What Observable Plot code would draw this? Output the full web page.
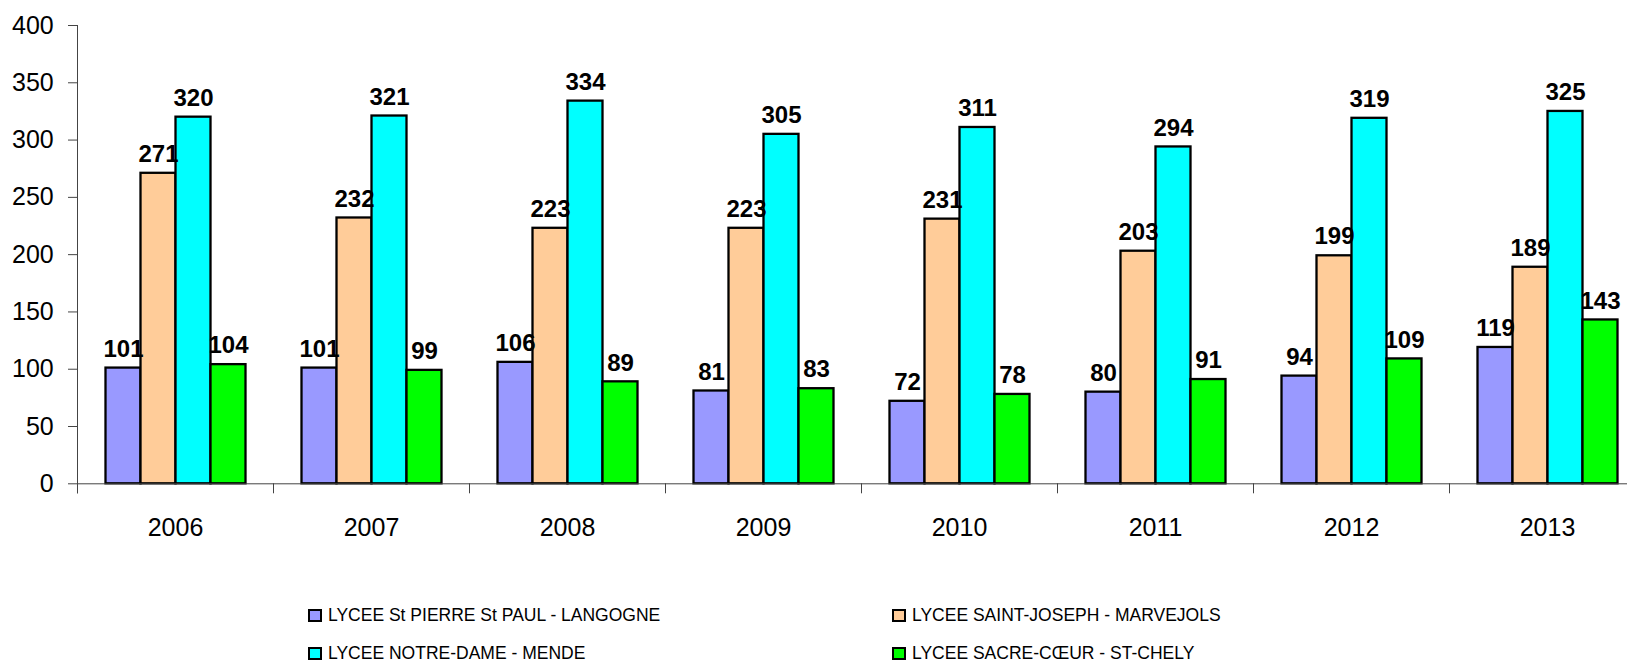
<!DOCTYPE html>
<html>
<head>
<meta charset="utf-8">
<script src="https://cdn.jsdelivr.net/npm/d3@7"></script>
<script src="https://cdn.jsdelivr.net/npm/@observablehq/plot@0.6"></script>
<style>
  html, body { margin: 0; padding: 0; background: white; overflow: hidden; }
  #chart svg { display: block; overflow: hidden; }
  #legend {
    font-family: "Liberation Sans", Arial, sans-serif;
    font-size: 17.5px;
    color: black;
    display: grid;
    grid-template-columns: 584px auto;
    grid-auto-rows: 38px;
    padding-left: 308px;
    padding-top: 6px;
  }
  #legend .item { display: flex; align-items: center; white-space: nowrap; }
  #legend .sw { width: 14px; height: 13px; box-sizing: border-box; border: 2px solid black; margin-right: 6px; }
</style>
</head>
<body>
<div id="chart"></div>
<div id="legend"></div>
<script>
const years = ["2006", "2007", "2008", "2009", "2010", "2011", "2012", "2013"];
const schools = [
  "LYCEE St PIERRE St PAUL - LANGOGNE",
  "LYCEE SAINT-JOSEPH - MARVEJOLS",
  "LYCEE NOTRE-DAME - MENDE",
  "LYCEE SACRE-CŒUR - ST-CHELY"
];
const colors = ["#9999FF", "#FFCC99", "#00FFFF", "#00FF00"];
const langogne  = [101, 101, 106, 81, 72, 80, 94, 119];
const marvejols = [271, 232, 223, 223, 231, 203, 199, 189];
const mende     = [320, 321, 334, 305, 311, 294, 319, 325];
const stchely   = [104, 99, 89, 83, 78, 91, 109, 143];
const yTicks = [0, 50, 100, 150, 200, 250, 300, 350, 400];

const series = [langogne, marvejols, mende, stchely];
const data = years.flatMap((year, i) => schools.map((school, k) => ({year, school, value: series[k][i]})));

const H = 590, mTop = 25, mBottom = 106.7;
const chart = Plot.plot({
  width: 1627,
  height: H,
  marginLeft: 75.5,
  marginRight: -19.7,
  marginTop: mTop,
  marginBottom: mBottom,
  style: {fontFamily: "'Liberation Sans', Arial, sans-serif", color: "black", background: "white", overflow: "hidden"},
  fx: {domain: years, padding: 0},
  x: {domain: schools, paddingInner: 0, paddingOuter: 0.742, axis: null},
  y: {domain: [0, 400]},
  color: {domain: schools, range: colors},
  marks: [
    Plot.barY(data, {fx: "year", x: "school", y: "value", fill: "school", stroke: "black", strokeWidth: 2.3}),
    Plot.ruleY([0], {stroke: "#444"}),
    Plot.frame({anchor: "left", fx: "2006", insetBottom: -9, stroke: "#444"}),
    Plot.frame({anchor: "left", insetTop: H - mTop - mBottom, insetBottom: -9, stroke: "#444"}),
    Plot.axisY({ticks: yTicks, tickSize: 9, tickPadding: 14.8, fontSize: 25, label: null, stroke: "#444"}),
    Plot.axisFx({anchor: "bottom", tickSize: 0, tickPadding: 34.7, fontSize: 25, label: null}),
    Plot.text(data, {fx: "year", x: "school", y: "value", text: "value", dy: -19, fontSize: 24, fontWeight: "bold"})
  ]
});
document.getElementById("chart").append(chart);

const legend = document.getElementById("legend");
schools.forEach((s, k) => {
  const item = document.createElement("div");
  item.className = "item";
  const sw = document.createElement("span");
  sw.className = "sw";
  sw.style.background = colors[k];
  const label = document.createElement("span");
  label.textContent = s;
  item.append(sw, label);
  legend.append(item);
});
</script>
</body>
</html>
